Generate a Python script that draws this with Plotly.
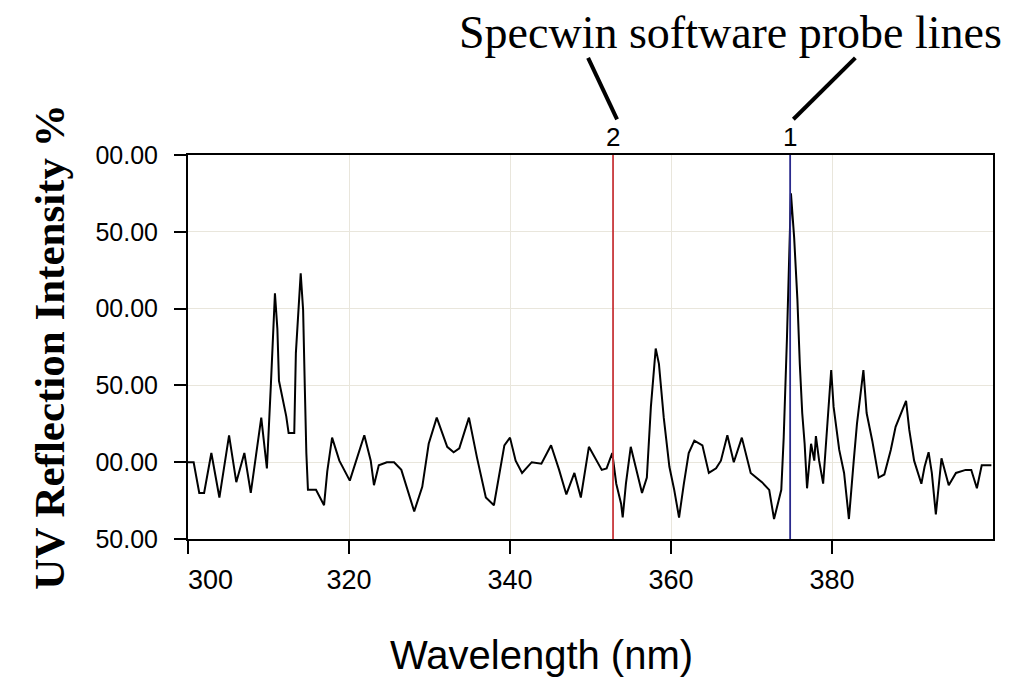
import plotly.graph_objects as go

# ---- data ----
wavelength = [
    300.0, 300.7, 301.4, 302.0, 302.9, 303.9, 305.1, 306.0, 307.0, 307.8,
    309.1, 309.8, 310.3, 310.8, 311.1, 311.3, 312.2, 312.5, 313.2, 313.4,
    314.0, 314.3, 314.5, 314.7, 314.9, 315.9, 316.9, 317.3, 317.9, 318.8,
    320.1, 321.9, 322.7, 323.1, 323.7, 324.7, 325.6, 326.5, 328.1, 329.1,
    329.9, 330.9, 332.2, 333.0, 333.7, 334.9, 335.9, 337.0, 338.0, 339.3,
    340.0, 340.7, 341.5, 342.7, 343.9, 345.1, 346.1, 347.0, 348.0, 348.8,
    349.8, 350.8, 351.4, 352.0, 352.7, 353.2, 353.8, 354.0, 354.4, 355.0,
    355.7, 356.4, 357.0, 357.5, 358.1, 358.5, 359.1, 359.8, 360.4, 361.0,
    361.6, 362.2, 362.9, 363.9, 364.7, 365.6, 366.2, 367.0, 367.8, 368.8,
    369.9, 371.3, 372.2, 372.8, 373.7, 374.0, 374.4, 374.9, 375.3, 375.7,
    376.0, 376.3, 376.6, 376.9, 377.4, 377.8, 378.0, 378.4, 378.9, 379.4,
    379.9, 380.2, 380.9, 381.5, 382.1, 382.7, 383.1, 383.9, 384.3, 385.0,
    385.8, 386.5, 387.3, 387.9, 389.2, 389.6, 390.2, 391.1, 391.5, 392.0,
    392.4, 392.9, 393.6, 394.5, 395.4, 396.6, 397.3, 398.0, 398.6, 399.8,
]
intensity = [
    0, 0, -20, -20, 6, -23, 17.5, -13, 6, -20,
    29, -4, 51, 110, 87, 53, 30, 19, 19, 71,
    123, 99, 51, 6, -18, -18, -28, -6, 16, 1,
    -12, 17.5, 1, -15, -2, 0, 0, -5, -32, -16,
    12, 29, 10, 6.5, 9, 29, 3, -23, -28, 11,
    16, 1, -7, 0, -1, 11, -5, -21, -7, -23,
    10, 0, -5, -4, 6, -14, -27, -36, -14, 10,
    -5, -20, -10, 36, 74, 64, 29, -3, -18, -36,
    -14, 6, 14, 11, -7, -4, 1, 17.5, 0, 16,
    -7, -13, -18, -37, -18, 16, 80, 175, 146, 106,
    64, 32, 12, -17, 12, 1, 17, 1, -14, 23,
    60, 36, 8, -7, -37, 1, 25, 60, 32, 14,
    -10, -8, 8, 23, 40, 21, 1, -14, -3, 6.5,
    -7, -34, 2.5, -15, -7, -5, -5, -17, -2, -2,
]

probe_positions = [352.8, 374.8]
probe_labels = ["2", "1"]
probe_colors = ["#c8373a", "#2a2a8c"]

x_tickvals = [300, 320, 340, 360, 380]
x_ticktext = ["\u00a0" * 6 + "300", "320", "340", "360", "380"]
y_tickvals = [-50, 0, 50, 100, 150, 200]
y_ticktext = ["50.00", "00.00", "50.00", "00.00", "50.00", "00.00"]

title_text = "Specwin software probe lines"
x_title = "Wavelength (nm)"
y_title = "UV Reflection Intensity %"

fig = go.Figure()

fig.add_trace(go.Scatter(
    x=wavelength, y=intensity, mode="lines",
    line=dict(color="black", width=2),
    showlegend=False, hoverinfo="x+y",
))

shapes = []
annotations = []
for pos, lab, col in zip(probe_positions, probe_labels, probe_colors):
    shapes.append(dict(type="line", xref="x", yref="paper", x0=pos, x1=pos,
                       y0=0, y1=1, line=dict(color=col, width=1.8), layer="above"))
    annotations.append(dict(x=pos, y=1, xref="x", yref="paper", text=lab,
                            showarrow=False, yanchor="bottom", yshift=1,
                            font=dict(family="Liberation Sans, Arial", size=26, color="black")))

# leader lines from the caption to the probe labels
shapes.append(dict(type="line", xref="x", yref="paper", x0=349.7, y0=1.253,
                   x1=353.3, y1=1.093, line=dict(color="black", width=4)))
shapes.append(dict(type="line", xref="x", yref="paper", x0=382.9, y0=1.253,
                   x1=375.2, y1=1.093, line=dict(color="black", width=4)))

annotations.append(dict(x=(730 - 188) / 805, y=(539 - 32) / 384, xref="paper", yref="paper",
                        text=title_text, showarrow=False, xanchor="center", yanchor="middle",
                        font=dict(family="Liberation Serif, Times New Roman", size=46, color="black")))
annotations.append(dict(x=(541 - 188) / 805, y=(539 - 655) / 384, xref="paper", yref="paper",
                        text=x_title, showarrow=False, xanchor="center", yanchor="middle",
                        font=dict(family="Liberation Sans, Arial", size=40, color="black")))

fig.update_layout(
    width=1012, height=677,
    margin=dict(l=188, r=19, t=155, b=138),
    paper_bgcolor="white", plot_bgcolor="white",
    showlegend=False,
    shapes=shapes, annotations=annotations,
    xaxis=dict(
        range=[300, 400], tickvals=x_tickvals, ticktext=x_ticktext,
        ticks="outside", ticklen=13, tickwidth=1.5, tickcolor="black",
        showline=True, linecolor="black", linewidth=2, mirror=True,
        showgrid=True, gridcolor="#e9e6dc", gridwidth=1.2,
        zeroline=False, ticklabelstandoff=3,
        tickfont=dict(family="Liberation Sans, Arial", size=27, color="black"),
    ),
    yaxis=dict(
        range=[-50, 200], tickvals=y_tickvals, ticktext=y_ticktext,
        ticks="outside", ticklen=12, tickwidth=1.5, tickcolor="black",
        showline=True, linecolor="black", linewidth=2, mirror=True,
        showgrid=True, gridcolor="#e9e6dc", gridwidth=1.2,
        zeroline=False, ticklabelstandoff=11,
        tickfont=dict(family="Liberation Sans, Arial", size=25, color="black"),
        title=dict(text="<b>" + y_title + "</b>", standoff=17,
                   font=dict(family="Liberation Serif, Times New Roman", size=43, color="black")),
    ),
)

fig.write_html("out.html")
